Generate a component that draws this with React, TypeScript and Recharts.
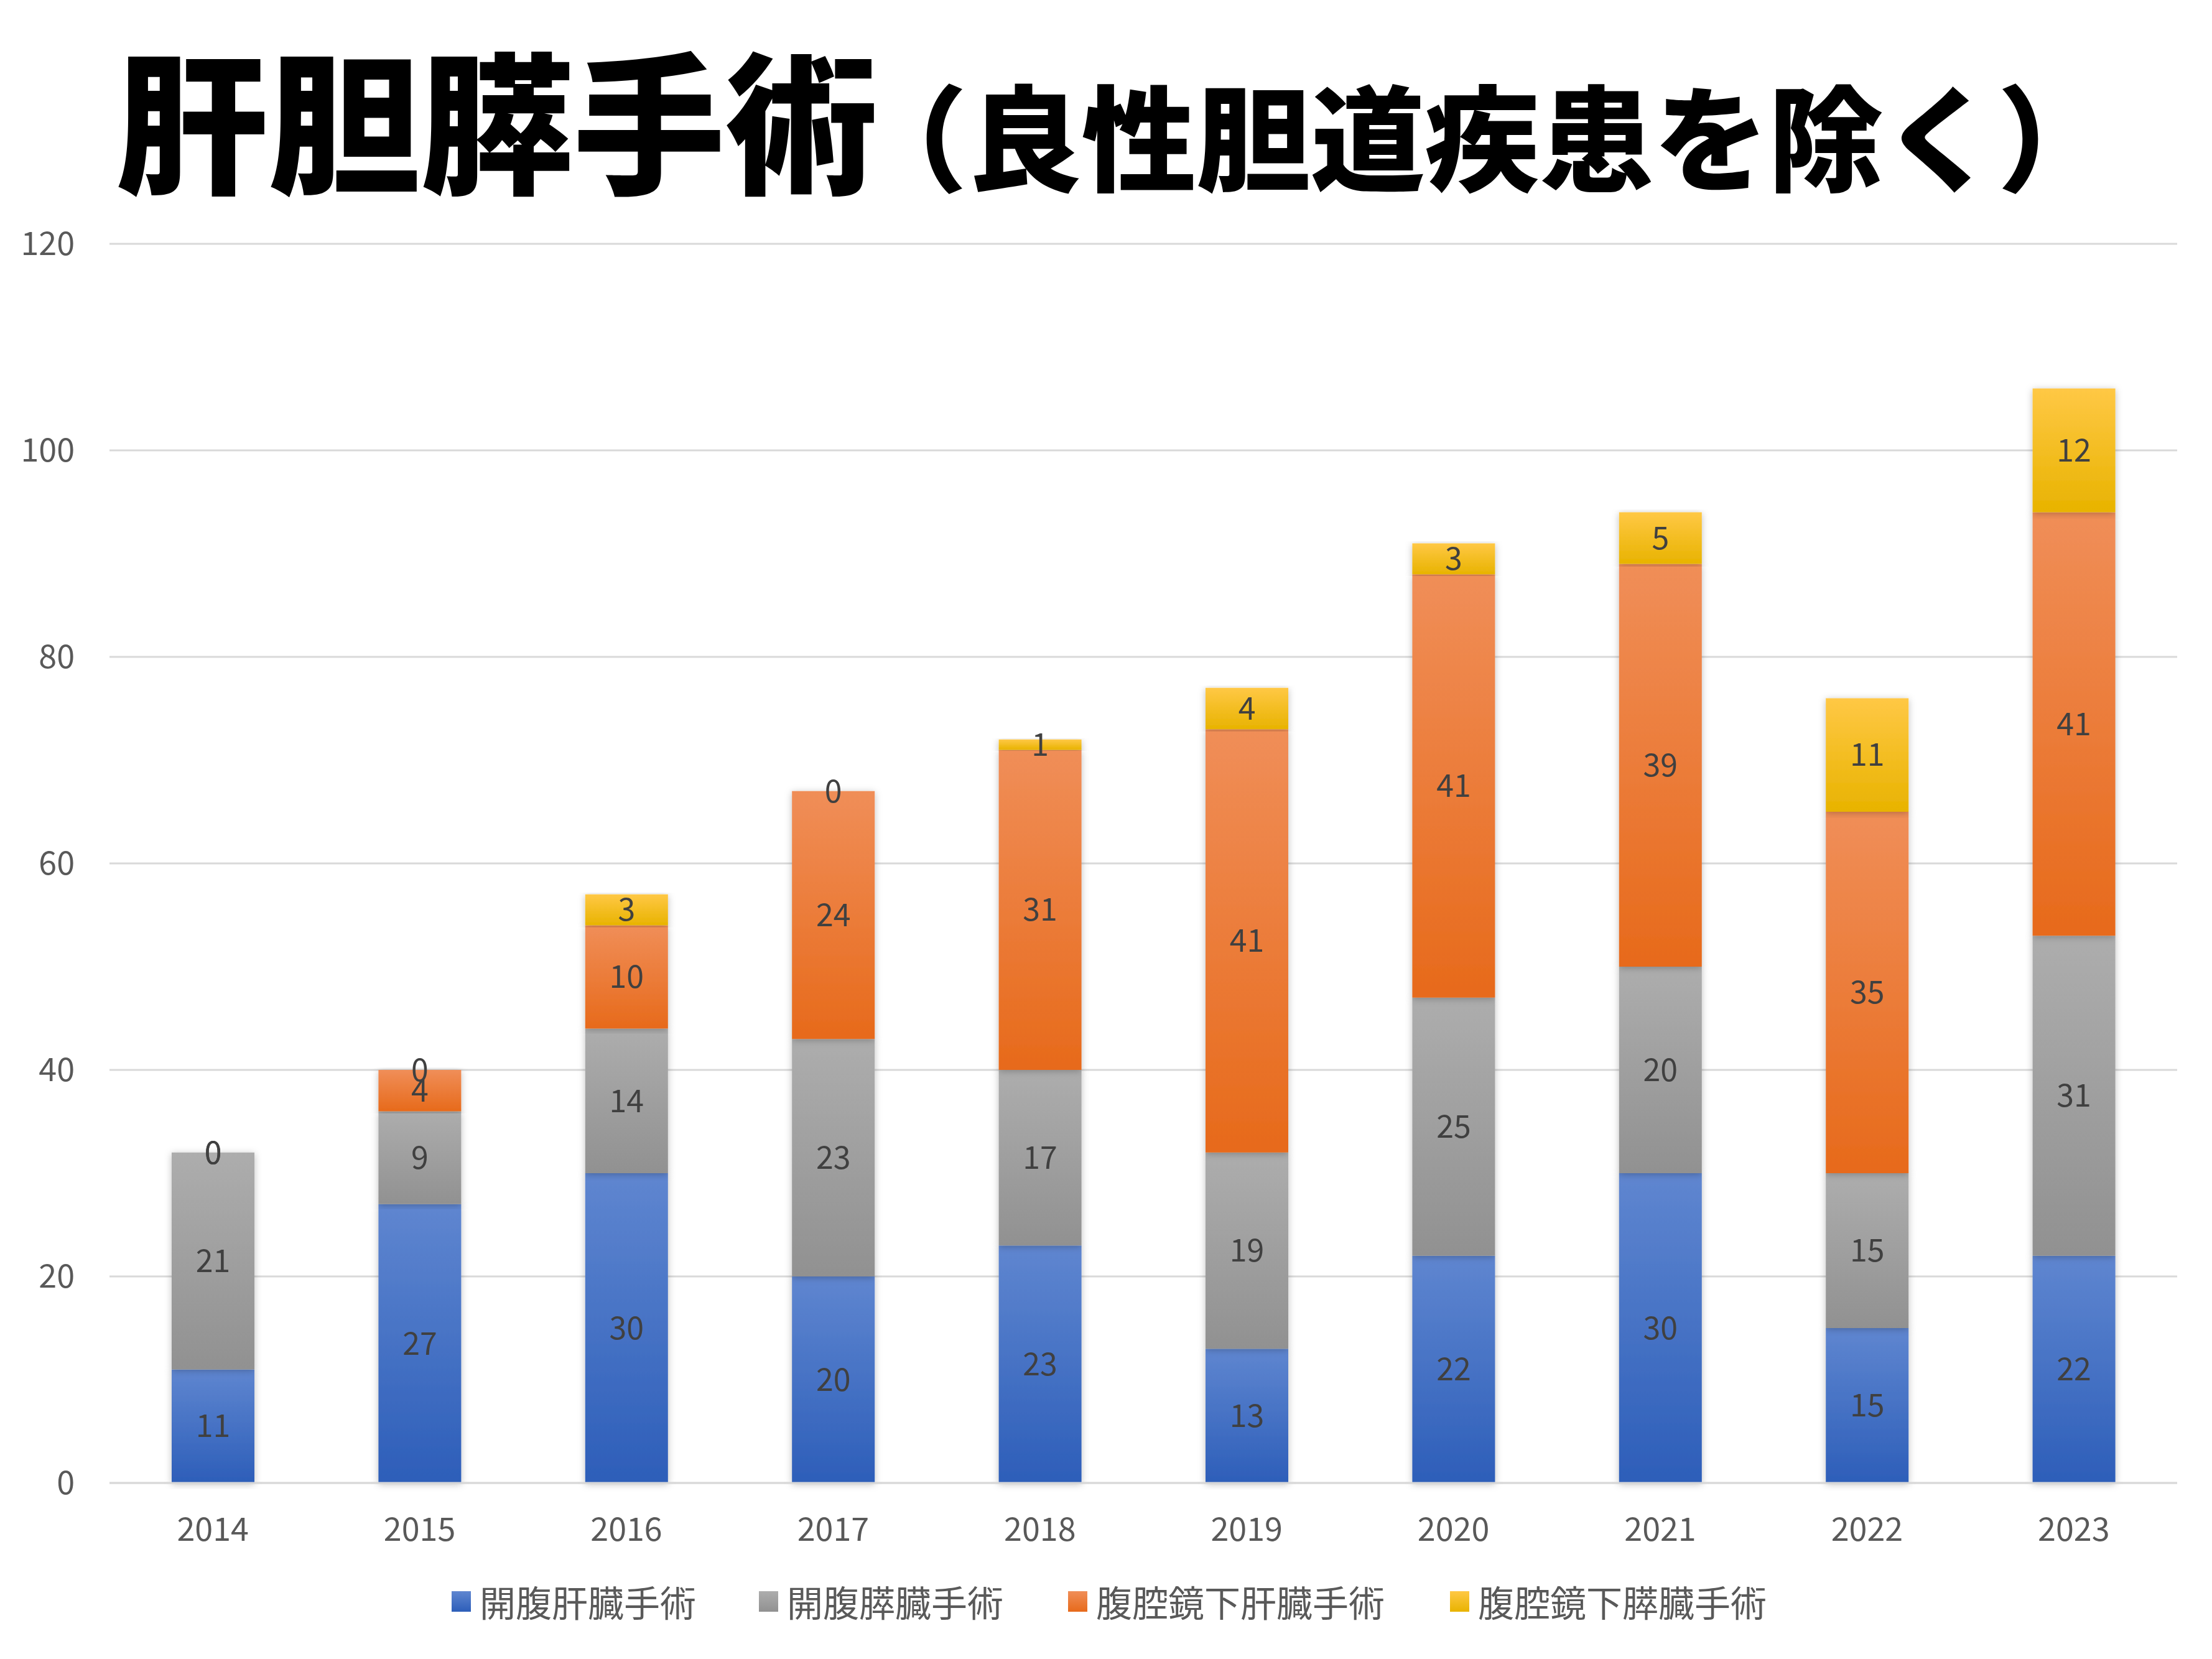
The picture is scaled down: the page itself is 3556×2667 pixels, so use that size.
import { BarChart, Bar, XAxis, YAxis, CartesianGrid, LabelList } from 'recharts';

const years = ['2014', '2015', '2016', '2017', '2018', '2019', '2020', '2021', '2022', '2023'];
const openLiver = [11, 27, 30, 20, 23, 13, 22, 30, 15, 22];
const openPancreas = [21, 9, 14, 23, 17, 19, 25, 20, 15, 31];
const lapLiver = [0, 4, 10, 24, 31, 41, 41, 39, 35, 41];
const lapPancreas = [0, 0, 3, 0, 1, 4, 3, 5, 11, 12];
const yTicks = [0, 20, 40, 60, 80, 100, 120];

const seriesNames = ['開腹肝臓手術', '開腹膵臓手術', '腹腔鏡下肝臓手術', '腹腔鏡下膵臓手術'];
const seriesKeys = ['openLiver', 'openPancreas', 'lapLiver', 'lapPancreas'];
const gradients = [
    { id: 'gBlue', top: '#5f86d0', bottom: '#2d5eb9' },
    { id: 'gGray', top: '#adadad', bottom: '#919191' },
    { id: 'gOrange', top: '#f08e58', bottom: '#e76a1b' },
    { id: 'gYellow', top: '#ffc845', bottom: '#e8b300' },
];

const data = years.map((year, i) => ({
    year,
    openLiver: openLiver[i],
    openPancreas: openPancreas[i],
    lapLiver: lapLiver[i],
    lapPancreas: lapPancreas[i],
}));

const FONT = '"Noto Sans CJK JP", "Noto Sans", sans-serif';
const legendLeft = [726, 1220, 1717, 2331];

export default function App() {
    return (
        <div style={{ position: 'absolute', left: 0, top: 0, width: 3556, height: 2667, background: '#fff' }}>
            <svg width={3556} height={400} style={{ position: 'absolute', left: 0, top: 0 }}>
                <text x={186} y={293} fontFamily={FONT} fontWeight={900} fontSize={245} fill="#000">
                    肝胆膵手術
                    <tspan fontSize={184} dx={-40}>（良性胆道疾患を除く）</tspan>
                </text>
            </svg>
            <BarChart
                width={3556}
                height={2667}
                data={data}
                margin={{ top: 392, right: 56, left: 0, bottom: 0 }}
                barSize={133}
                style={{ position: 'absolute', left: 0, top: 0 }}
            >
                <defs>
                    {gradients.map((g) => (
                        <linearGradient key={g.id} id={g.id} x1="0" y1="0" x2="0" y2="1">
                            <stop offset="0%" stopColor={g.top} />
                            <stop offset="100%" stopColor={g.bottom} />
                        </linearGradient>
                    ))}
                    <filter id="barShadow" x="-20%" y="-5%" width="140%" height="110%">
                        <feDropShadow dx="0" dy="2" stdDeviation="6" floodColor="#000" floodOpacity="0.25" />
                    </filter>
                </defs>
                <CartesianGrid vertical={false} stroke="#d9d9d9" strokeWidth={3} />
                <XAxis
                    dataKey="year"
                    axisLine={{ stroke: '#d9d9d9', strokeWidth: 3 }}
                    tickLine={false}
                    tickSize={0}
                    tickMargin={56}
                    height={283}
                    tick={{ fill: '#595959', fontSize: 52, fontFamily: FONT }}
                />
                <YAxis
                    domain={[0, 120]}
                    ticks={yTicks}
                    axisLine={false}
                    tickLine={false}
                    tickSize={0}
                    tickMargin={56}
                    width={176}
                    tick={{ fill: '#595959', fontSize: 52, fontFamily: FONT }}
                />
                {seriesKeys.map((key, i) => (
                    <Bar
                        key={key}
                        dataKey={key}
                        name={seriesNames[i]}
                        stackId="a"
                        fill={`url(#${gradients[i].id})`}
                        filter="url(#barShadow)"
                        minPointSize={0.01}
                        isAnimationActive={false}
                    >
                        <LabelList dataKey={key} position="center" fill="#404040" fontSize={50} fontFamily={FONT} />
                    </Bar>
                ))}
            </BarChart>
            {seriesNames.map((name, i) => (
                <div
                    key={name}
                    style={{ position: 'absolute', left: legendLeft[i], top: 2544, height: 60, display: 'flex', alignItems: 'center', fontFamily: FONT }}
                >
                    <div style={{ width: 31, height: 33, background: `linear-gradient(${gradients[i].top}, ${gradients[i].bottom})` }} />
                    <span style={{ marginLeft: 14, fontSize: 58, color: '#595959', lineHeight: '60px', whiteSpace: 'nowrap' }}>{name}</span>
                </div>
            ))}
        </div>
    );
}
